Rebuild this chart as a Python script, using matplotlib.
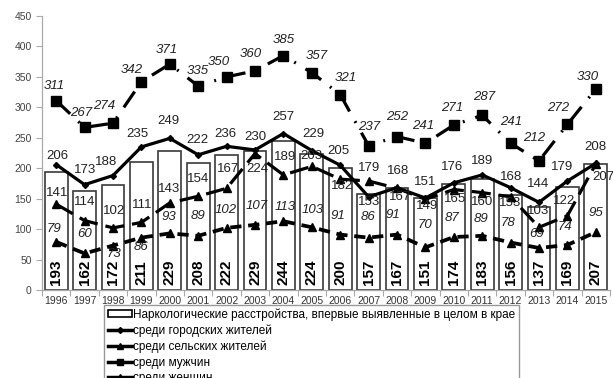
import matplotlib
matplotlib.use("Agg")
import matplotlib.pyplot as plt
from matplotlib.lines import Line2D
from matplotlib.patches import Rectangle
from matplotlib.ticker import MultipleLocator, FixedLocator

plt.rcParams['font.family'] = ['Liberation Sans', 'DejaVu Sans']

years = [1996, 1997, 1998, 1999, 2000, 2001, 2002, 2003, 2004, 2005,
         2006, 2007, 2008, 2009, 2010, 2011, 2012, 2013, 2014, 2015]
total = [193, 162, 172, 211, 229, 208, 222, 229, 244, 224,
         200, 157, 167, 151, 174, 183, 156, 137, 169, 207]
urban = [206, 173, 188, 235, 249, 222, 236, 230, 257, 229,
         205, 153, 168, 151, 176, 189, 168, 144, 179, 208]
rural = [141, 114, 102, 111, 143, 154, 167, 224, 189, 203,
         182, 179, 167, 149, 165, 160, 153, 103, 122, 207]
men = [311, 267, 274, 342, 371, 335, 350, 360, 385, 357,
       321, 237, 252, 241, 271, 287, 241, 212, 272, 330]
women = [79, 60, 73, 86, 93, 89, 102, 107, 113, 103,
         91, 86, 91, 70, 87, 89, 78, 69, 74, 95]

legend_labels = [
    "Наркологические расстройства, впервые выявленные в целом в крае",
    "среди городских жителей",
    "среди сельских жителей",
    "среди мужчин",
    "среди женщин",
]

# label nudges in pixels (dx, dy up)
off_urban = [(1, 9), (0, 15), (-7, 14), (-4, 13), (-1, 17), (-1, 15), (-1, 12), (0, 13), (0, 17), (2, 17),
             (-2, 14), (0, -5), (1, 17), (0, 16), (-2, 16), (0, 14), (0, 11), (-1, 18), (-5, 14), (0, 16)]
off_rural = [(1, 11), (0, 19), (1, 17), (1, 17), (-1, 14), (0, 17), (1, 19), (2, -15), (2, 18), (0, 10),
             (2, -7), (0, 13), (3, -9), (2, -7), (1, -9), (0, -9), (-1, -6), (-1, 16), (-3, 15), (8, -13)]
off_men = [(-2, 15), (-3, 14), (-9, 17), (-10, 12), (-3, 14), (0, 15), (-8, 15), (-4, 17), (0, 16), (5, 17),
           (6, 17), (1, 19), (0, 20), (-2, 17), (-2, 17), (2, 18), (1, 21), (-5, 23), (-9, 16), (-8, 12)]
off_women = [(-2, 13), (0, 19), (1, -8), (0, -9), (-1, 16), (0, 20), (-1, 18), (2, 19), (2, 14), (1, 17),
             (-2, 19), (-1, 21), (-4, 20), (0, 22), (-2, 19), (-1, 17), (-3, 20), (-2, 14), (-2, 18), (0, 19)]

fig = plt.figure(figsize=(6.13, 3.78), dpi=100)
ax = fig.add_axes([42 / 613, 88 / 378, 568 / 613, 274 / 378])

x = list(range(len(years)))

ax.bar(x, total, width=0.8, color='white', edgecolor='#3a3a3a', linewidth=1.2, zorder=2)
for xi, v in zip(x, total):
    ax.annotate(str(v), (xi, 0), xytext=(0, 5), textcoords='offset pixels',
                rotation=90, ha='center', va='bottom', fontsize=11, fontweight='bold',
                family=['Liberation Sans Narrow', 'Liberation Sans'], color='black', zorder=5)

lw = 2.3
ax.plot(x, urban, color='black', lw=lw, ls='-', marker='D', ms=3, zorder=4)
ax.plot(x, rural, color='black', lw=lw, ls=(0, (6, 2.5)), marker='^', ms=6, zorder=4)
ax.plot(x, men, color='black', lw=lw, ls=(0, (6, 3.5, 0.6, 3.5)), marker='s', ms=6.5, zorder=4)
ax.plot(x, women, color='black', lw=lw + 0.4, ls=(0, (3, 1.8)), marker='^', ms=6, zorder=4)

def put_labels(vals, offs, style):
    for xi, v, (dx, dy) in zip(x, vals, offs):
        ax.annotate(str(v), (xi, v), xytext=(dx, dy), textcoords='offset pixels',
                    ha='center', va='center', fontsize=9.5, fontstyle=style,
                    color='#222222', zorder=6)

put_labels(urban, off_urban, 'normal')
put_labels(rural, off_rural, 'normal')
put_labels(men, off_men, 'italic')
put_labels(women, off_women, 'italic')

ax.set_xlim(-0.5, len(years) - 0.5)
ax.set_ylim(0, 450)
ax.yaxis.set_major_locator(MultipleLocator(50))
ax.set_xticks(x)
ax.set_xticklabels([str(y) for y in years], fontsize=7.5, color='#333333')
ax.xaxis.set_minor_locator(FixedLocator([i - 0.5 for i in range(len(years) + 1)]))
ax.tick_params(axis='x', which='major', length=0, pad=4)
ax.tick_params(axis='x', which='minor', length=4, color='#aaaaaa', width=0.8)
ax.tick_params(axis='y', labelsize=7.5, labelcolor='#444444', length=4, color='#aaaaaa', width=0.8)
for s in ('top', 'right'):
    ax.spines[s].set_visible(False)
for s in ('left', 'bottom'):
    ax.spines[s].set_color('#aaaaaa')
    ax.spines[s].set_linewidth(0.9)

handles = [
    Rectangle((0, 0), 1, 1, facecolor='white', edgecolor='black', linewidth=1.2),
    Line2D([], [], color='black', lw=2.5, marker='D', ms=3),
    Line2D([], [], color='black', lw=2.5, marker='^', ms=5),
    Line2D([], [], color='black', lw=2.5, marker='s', ms=5),
    Line2D([], [], color='black', lw=2.5, marker='^', ms=5),
]
leg = fig.legend(handles, legend_labels, loc='upper left',
                 bbox_to_anchor=(104 / 613, 1 - 305 / 378), fontsize=8.5,
                 frameon=True, fancybox=False, framealpha=1, edgecolor='#999999',
                 handlelength=2.1, handletextpad=0.05, labelspacing=0.3,
                 borderpad=0.3, borderaxespad=0, handleheight=0.5)
leg.get_frame().set_linewidth(1.0)

fig.savefig('out.png', dpi=100)
